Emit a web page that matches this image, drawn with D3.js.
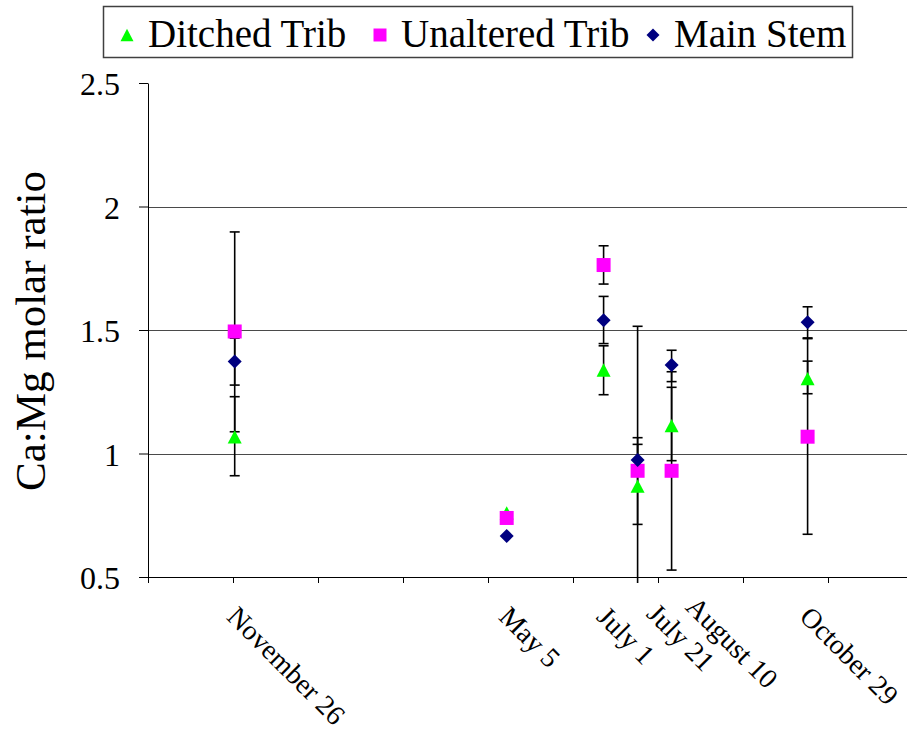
<!DOCTYPE html>
<html>
<head>
<meta charset="utf-8">
<script src="https://cdn.jsdelivr.net/npm/d3@7"></script>
<style>
  body { margin: 0; background: #fff; }
  svg { display: block; }
  text { font-family: "Liberation Serif", "Times New Roman", serif; fill: #000; }
</style>
</head>
<body>
<svg id="chart" width="907" height="731"></svg>
<script>
// Sampling dates and their axis labels
const sampleDates = ["2002-11-26", "2003-05-05", "2003-07-01", "2003-07-21", "2003-08-10", "2003-10-29"];
const dateLabels = ["November 26", "May 5", "July 1", "July 21", "August 10", "October 29"];

// Ca:Mg molar ratio per site, with lower / upper error limits (null = no bar)
const ditched   = [1.067, 0.760, 1.338, 0.868, 1.113, 1.303];
const ditchedLo = [0.910, null,  1.238, 0.713, 0.971, 1.242];
const ditchedHi = [1.230, null,  1.436, 1.064, 1.268, 1.374];

const unaltered   = [1.494, 0.739, 1.763, 0.930, 0.930, 1.068];
const unalteredLo = [1.088, null,  1.686, 0.345, 0.528, 0.673];
const unalteredHi = [1.897, null,  1.841, 1.515, 1.331, 1.465];

const mainStem   = [1.372, 0.666, 1.539, 0.974, 1.358, 1.531];
const mainStemLo = [1.277, null,  1.445, 0.911, 1.291, 1.468];
const mainStemHi = [1.467, null,  1.636, 1.037, 1.418, 1.594];

const seriesNames = ["Ditched Trib", "Unaltered Trib", "Main Stem"];
const yTicks = [0.5, 1, 1.5, 2, 2.5];
const gridValues = [1, 1.5, 2];
const axisStartDate = "2002-10-06";
const tickStepDays = 50;
const axisSpanDays = 450;

// ---- layout ----
const W = 907, H = 731;
const plot = { left: 148, top: 83, bottom: 577 };
const parse = d3.timeParse("%Y-%m-%d");
const axisStart = parse(axisStartDate);
const axisEnd = d3.timeDay.offset(axisStart, axisSpanDays);

const x = d3.scaleTime().domain([axisStart, axisEnd]).range([plot.left, plot.left + axisSpanDays * 1.7]);
const y = d3.scaleLinear().domain([0.5, 2.5]).range([plot.bottom, plot.top]);

const svg = d3.select("#chart");
svg.append("rect").attr("width", W).attr("height", H).attr("fill", "#fff");

// horizontal gridlines
svg.append("g").selectAll("line").data(gridValues).join("line")
  .attr("x1", plot.left).attr("x2", W + 10)
  .attr("y1", d => Math.round(y(d)) + 0.5).attr("y2", d => Math.round(y(d)) + 0.5)
  .attr("stroke", "#4a4a4a").attr("stroke-width", 1);

// x axis: unlabelled ticks every 50 days
const xTickValues = d3.range(0, axisSpanDays + 1, tickStepDays).map(d => d3.timeDay.offset(axisStart, d));
const xAxis = svg.append("g").attr("transform", `translate(0,${plot.bottom})`)
  .call(d3.axisBottom(x).tickValues(xTickValues).tickFormat("").tickSize(6).tickSizeOuter(0));
xAxis.selectAll("path,line").attr("stroke", "#000");

// y axis
const yAxis = svg.append("g").attr("transform", `translate(${plot.left},0)`)
  .call(d3.axisLeft(y).tickValues(yTicks).tickFormat(d3.format("")).tickSize(9).tickSizeOuter(0).tickPadding(19));
yAxis.selectAll("path,line").attr("stroke", "#000");
yAxis.selectAll("text").attr("font-size", 32).attr("dy", "0.36em")
  .style("font-family", '"Liberation Serif", "Times New Roman", serif');

// y axis title
svg.append("text")
  .attr("transform", `translate(45,${(plot.top + plot.bottom) / 2 + 1}) rotate(-90)`)
  .attr("text-anchor", "middle").attr("font-size", 43)
  .text("Ca:Mg molar ratio");

// rotated date labels under each sampling date (crowded July/August labels pushed apart)
const labelNudge = { "July 1": 1, "July 21": 17, "August 10": 22 };
const labelRaise = { "July 21": 3, "August 10": 10 };
svg.append("g").selectAll("text").data(sampleDates).join("text")
  .attr("transform", (d, i) => {
    const lx = x(parse(d)) + 5 + (labelNudge[dateLabels[i]] || 0);
    const ly = 604 - (labelRaise[dateLabels[i]] || 0);
    return `translate(${lx},${ly}) rotate(45)`;
  })
  .attr("dy", "0.72em").attr("font-size", 28)
  .text((d, i) => dateLabels[i]);

// marker shapes
const triangleType = {
  draw(ctx, size) {
    const r = Math.sqrt(size) / 2;
    ctx.moveTo(0, -r * 0.95); ctx.lineTo(r, r * 0.95); ctx.lineTo(-r, r * 0.95); ctx.closePath();
  }
};
const diamondType = {
  draw(ctx, size) {
    const r = Math.sqrt(size) / 2;
    ctx.moveTo(0, -r); ctx.lineTo(r, 0); ctx.lineTo(0, r); ctx.lineTo(-r, 0); ctx.closePath();
  }
};
const series = [
  { name: seriesNames[0], values: ditched, lo: ditchedLo, hi: ditchedHi, type: triangleType, color: "#00ff00" },
  { name: seriesNames[1], values: unaltered, lo: unalteredLo, hi: unalteredHi, type: d3.symbolSquare, color: "#ff00ff" },
  { name: seriesNames[2], values: mainStem, lo: mainStemLo, hi: mainStemHi, type: diamondType, color: "#000080" }
];
const markerArea = 196;

// error bars, clipped just below the x axis
svg.append("clipPath").attr("id", "plotClip")
  .append("rect").attr("x", plot.left - 20).attr("y", 60).attr("width", W).attr("height", plot.bottom + 6 - 60);
const errG = svg.append("g").attr("clip-path", "url(#plotClip)");
series.forEach(s => {
  const pts = sampleDates.map((d, i) => ({ x: x(parse(d)), lo: s.lo[i], hi: s.hi[i] })).filter(p => p.lo != null);
  const g = errG.append("g").attr("stroke", "#000").attr("stroke-width", 1.6);
  g.selectAll("line.stem").data(pts).join("line").attr("class", "stem")
    .attr("x1", p => p.x).attr("x2", p => p.x).attr("y1", p => y(p.hi)).attr("y2", p => y(p.lo));
  g.selectAll("line.capHi").data(pts).join("line").attr("class", "capHi")
    .attr("x1", p => p.x - 5).attr("x2", p => p.x + 5).attr("y1", p => y(p.hi)).attr("y2", p => y(p.hi));
  g.selectAll("line.capLo").data(pts).join("line").attr("class", "capLo")
    .attr("x1", p => p.x - 5).attr("x2", p => p.x + 5).attr("y1", p => y(p.lo)).attr("y2", p => y(p.lo));
});

// markers
series.forEach(s => {
  svg.append("g").selectAll("path").data(sampleDates).join("path")
    .attr("transform", (d, i) => `translate(${x(parse(d))},${y(s.values[i])})`)
    .attr("d", d3.symbol(s.type, markerArea))
    .attr("fill", s.color);
});

// legend
const legend = svg.append("g");
legend.append("rect").attr("x", 103.5).attr("y", 6.5).attr("width", 749).attr("height", 51)
  .attr("fill", "#fff").attr("stroke", "#404040").attr("stroke-width", 1.5);
const legendMarkerX = [127, 380, 653];
series.forEach((s, i) => {
  legend.append("path").attr("transform", `translate(${legendMarkerX[i]},35)`)
    .attr("d", d3.symbol(s.type, 169)).attr("fill", s.color);
  legend.append("text").attr("x", legendMarkerX[i] + 21).attr("y", 47)
    .attr("font-size", 39).text(s.name);
});
</script>
</body>
</html>
